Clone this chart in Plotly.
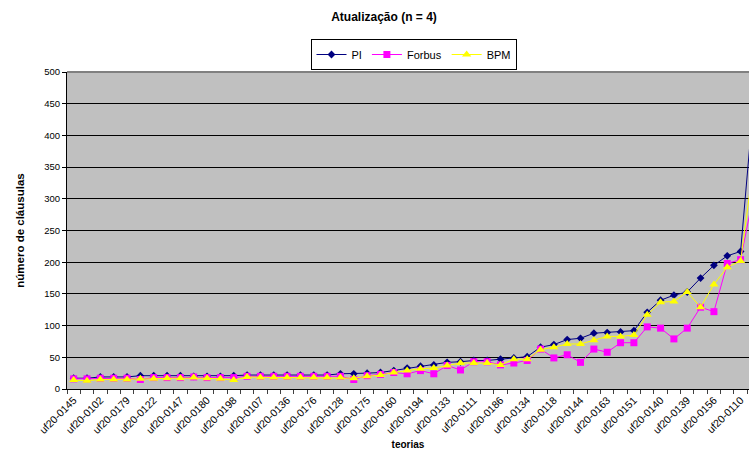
import plotly.graph_objects as go

categories = ["uf20-0145","c01","uf20-0102","c03","uf20-0179","c05","uf20-0122","c07","uf20-0147","c09",
              "uf20-0180","c11","uf20-0198","c13","uf20-0107","c15","uf20-0136","c17","uf20-0176","c19",
              "uf20-0128","c21","uf20-0175","c23","uf20-0160","c25","uf20-0194","c27","uf20-0133","c29",
              "uf20-0111","c31","uf20-0186","c33","uf20-0134","c35","uf20-0118","c37","uf20-0144","c39",
              "uf20-0163","c41","uf20-0151","c43","uf20-0140","c45","uf20-0139","c47","uf20-0156","c49",
              "uf20-0110","c51"]

pi_vals = [17,17,19,19,19,21,21,21,21,20,
           20,20,21,22,22,22,22,22,22,22,
           24,24,25,26,29,33,36,38,42,43,
           45,45,47,49,51,66,70,78,80,88,
           89,90,92,121,140,148,153,175,195,210,
           217,460]
forbus_vals = [16,16,17,17,17,15,18,18,18,19,
               18,18,18,20,20,20,20,20,20,20,
               20,15,21,23,26,24,29,24,37,30,
               43,43,38,41,45,63,49,54,42,63,
               58,73,73,98,96,79,96,129,122,198,
               204,310]
bpm_vals = [14,13,15,15,15,16,16,17,17,18,
            17,16,14,19,18,18,18,18,18,18,
            18,17,20,22,26,29,32,33,37,41,
            41,41,38,47,47,62,66,71,71,77,
            83,83,85,117,137,138,153,129,165,192,
            202,360]

y_ticks = [0,50,100,150,200,250,300,350,400,450,500]

idx = list(range(len(categories)))
label_idx = [i for i in idx if i % 2 == 0]
label_txt = [categories[i] for i in label_idx]

FONT = "Liberation Sans, Arial, sans-serif"

fig = go.Figure()
fig.add_trace(go.Scatter(x=idx, y=pi_vals, name="PI", mode="lines+markers",
                         line=dict(color="#000080", width=1),
                         marker=dict(symbol="diamond", size=6, color="#000080")))
fig.add_trace(go.Scatter(x=idx, y=forbus_vals, name="Forbus", mode="lines+markers",
                         line=dict(color="#FF00FF", width=1),
                         marker=dict(symbol="square", size=7, color="#FF00FF")))
fig.add_trace(go.Scatter(x=idx, y=bpm_vals, name="BPM", mode="lines+markers",
                         line=dict(color="#FFFF00", width=1),
                         marker=dict(symbol="triangle-up", size=8, color="#FFFF00")))

fig.update_layout(
    width=749, height=460,
    margin=dict(l=67, r=0, t=72, b=71, autoexpand=False),
    paper_bgcolor="white",
    plot_bgcolor="#C0C0C0",
    font=dict(family=FONT, size=10, color="black"),
    title=dict(text="<b>Atualização (n = 4)</b>", xref="container", x=384/749, xanchor="center",
               yref="container", y=1 - 17/460, yanchor="middle",
               font=dict(family=FONT, size=12, color="black")),
    legend=dict(orientation="h", xref="paper", x=(413.5 - 67) / 682, xanchor="center",
                yref="container", y=1 - 39/460, yanchor="top",
                bgcolor="white", bordercolor="black", borderwidth=1,
                font=dict(family=FONT, size=11, color="black"),
                itemwidth=30, tracegroupgap=0),
    showlegend=True,
)

fig.update_xaxes(
    range=[-0.5, 50.63], automargin=False,
    tickmode="array", tickvals=label_idx, ticktext=label_txt,
    tickangle=-45, ticks="", showgrid=False, zeroline=False,
    showline=True, linecolor="black", linewidth=1,
    tickfont=dict(family=FONT, size=10.5, color="black"),
    minor=dict(tickmode="linear", tick0=-0.5, dtick=1, ticks="outside", ticklen=4,
               tickcolor="#404040", tickwidth=1, showgrid=False),
    title=dict(text="<b>teorias</b>", font=dict(family=FONT, size=10, color="black"), standoff=6),
)
fig.update_yaxes(
    range=[0, 500], tickmode="array", tickvals=y_ticks, automargin=False,
    ticks="outside", ticklen=4, tickcolor="black",
    showline=True, linecolor="black", linewidth=1,
    showgrid=True, gridcolor="black", gridwidth=1, zeroline=False,
    tickfont=dict(family=FONT, size=9.5, color="black"),
    title=dict(text="<b>número de cláusulas</b>", font=dict(family=FONT, size=11.5, color="black"), standoff=17),
)

fig.add_shape(type="line", xref="paper", yref="paper", x0=0, x1=1, y0=1, y1=1,
              line=dict(color="#808080", width=2), layer="above")

fig.write_html("out.html", config={"displayModeBar": False},
               post_script="document.body.style.margin='0';document.body.style.overflow='hidden';")
